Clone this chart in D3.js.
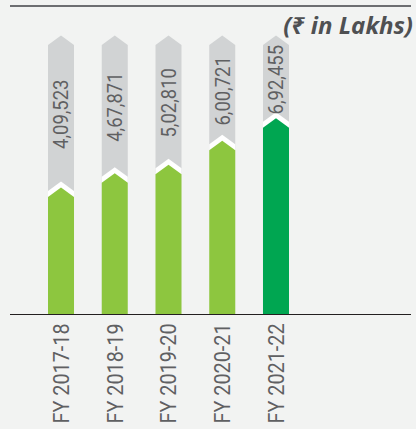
<!DOCTYPE html>
<html>
<head>
<meta charset="utf-8">
<script src="https://cdn.jsdelivr.net/npm/d3@7"></script>
<style>
  html, body { margin: 0; padding: 0; background: #f2f3f2; }
  svg { display: block; }
</style>
</head>
<body>
<svg id="chart" width="416" height="429"></svg>
<script>
// ---- data ----
const categories = ["FY 2017-18", "FY 2018-19", "FY 2019-20", "FY 2020-21", "FY 2021-22"];
const values = [409523, 467871, 502810, 600721, 692455];
const valueLabels = ["4,09,523", "4,67,871", "5,02,810", "6,00,721", "6,92,455"];
const unitLabel = "(₹ in Lakhs)";

// ---- layout ----
const baseline = 314.5;
const trackTop = 35.5;      // apex of grey track
const tip = 9.5;            // chevron height
const gap = 6;              // white gap between grey and green

const svg = d3.select("#chart");

const x = d3.scaleBand()
  .domain(categories)
  .range([48, 289])
  .paddingInner(0.516)
  .paddingOuter(0);

const y = d3.scaleLinear()
  .domain([-110000, 700000])
  .range([baseline, 116.5]);

// top rule
svg.append("line")
  .attr("x1", 10).attr("x2", 411)
  .attr("y1", 6).attr("y2", 6)
  .attr("stroke", "#6d6e71").attr("stroke-width", 2);

// unit label
svg.append("text")
  .attr("x", 413).attr("y", 33.5)
  .attr("text-anchor", "end")
  .attr("font-family", "'Open Sans', 'Noto Sans', sans-serif")
  .attr("font-weight", 700)
  .attr("font-style", "italic")
  .attr("font-size", 24)
  .attr("fill", "#4f5052")
  .text(unitLabel);

const bw = x.bandwidth();

function chevronPath(x0, w, apexY, bottomY) {
  const cx = x0 + w / 2;
  return `M${x0},${apexY + tip} L${cx},${apexY} L${x0 + w},${apexY + tip} L${x0 + w},${bottomY} L${x0},${bottomY} Z`;
}

const g = svg.append("g").selectAll("g")
  .data(categories.map((c, i) => ({ c, v: values[i], label: valueLabels[i], i })))
  .join("g");

// grey track
g.append("path")
  .attr("d", d => chevronPath(x(d.c), bw, trackTop, baseline))
  .attr("fill", "#d1d3d4");

// white gap
g.append("path")
  .attr("d", d => chevronPath(x(d.c), bw, y(d.v) - gap, baseline))
  .attr("fill", "#ffffff");

// green bar
g.append("path")
  .attr("d", d => chevronPath(x(d.c), bw, y(d.v), baseline))
  .attr("fill", (d, i) => i === categories.length - 1 ? "#00a651" : "#8dc63f");

// value labels (condensed look)
g.append("text")
  .attr("transform", d => {
    const cx = x(d.c) + bw / 2;
    const cy = ((trackTop + tip) + (y(d.v) - gap)) / 2 + 1;
    return `translate(${cx},${cy}) rotate(-90) scale(0.9,1)`;
  })
  .attr("dy", "0.36em")
  .attr("text-anchor", "middle")
  .attr("font-family", "Roboto, sans-serif")
  .attr("font-size", 20.5)
  .attr("fill", "#5f6062")
  .text(d => d.label);

// baseline
svg.append("line")
  .attr("x1", 10).attr("x2", 411)
  .attr("y1", baseline).attr("y2", baseline)
  .attr("stroke", "#231f20").attr("stroke-width", 1.2);

// category axis labels
const xAxis = d3.axisBottom(x).tickSize(0).tickPadding(0);
const ax = svg.append("g")
  .attr("transform", `translate(0,${baseline})`)
  .call(xAxis);
ax.select(".domain").remove();
ax.selectAll("text")
  .attr("transform", "translate(0,9) rotate(-90) scale(0.9,1)")
  .attr("x", 0).attr("y", 0)
  .attr("dy", "0.36em")
  .attr("text-anchor", "end")
  .attr("font-family", "Roboto, sans-serif")
  .attr("font-size", 22)
  .attr("fill", "#5f6062");
</script>
</body>
</html>
